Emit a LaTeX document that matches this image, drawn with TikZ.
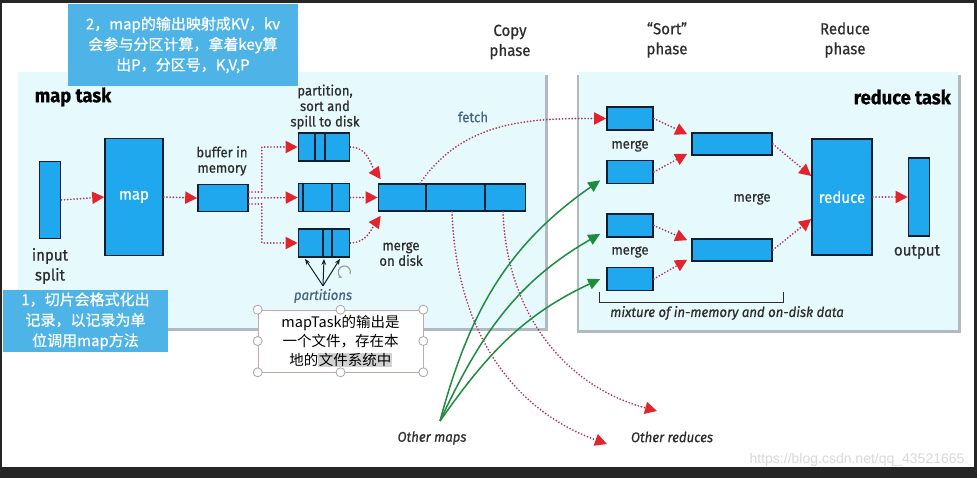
\documentclass[tikz,border=0pt]{standalone}
\usepackage{fontspec}
\setmainfont{Fira Sans}[FakeStretch=0.94, FakeBold=0.6]
\newfontfamily\cjk{Noto Sans CJK SC}[FakeBold=0.8]
\newfontfamily\cjkplain{Noto Sans CJK SC}
\newfontfamily\wmfont{Liberation Sans}
\usepackage{xcolor}
\usetikzlibrary{arrows.meta, positioning, calc}
\definecolor{boxblue}{RGB}{32,168,238}
\definecolor{boxedge}{RGB}{16,30,48}
\definecolor{panelbg}{RGB}{230,249,253}
\definecolor{panelshade}{RGB}{176,186,192}
\definecolor{dotred}{RGB}{178,48,96}
\definecolor{tipred}{RGB}{228,36,44}
\definecolor{flowgreen}{RGB}{30,140,60}
\definecolor{callblue}{RGB}{78,180,232}
\definecolor{txtgray}{RGB}{45,45,45}
\definecolor{noteblue}{RGB}{70,100,130}
\newcommand{\hlgray}[1]{{\fboxsep=0.5pt\colorbox{gray!35}{#1}}}

\begin{document}
\begin{tikzpicture}[x=1pt, y=1pt,
    part/.style={rectangle, draw=boxedge, line width=1.6pt, fill=boxblue, inner sep=0pt, text=white, font=\fontsize{16}{18}\selectfont},
    lbl/.style={font=\fontsize{14}{15.5}\selectfont, text=txtgray, align=center, inner sep=0pt},
    biglbl/.style={font=\fontsize{16}{20}\selectfont, text=txtgray, align=center, inner sep=0pt},
    tasklbl/.style={font=\bfseries\fontsize{19.5}{22}\selectfont, text=black, inner sep=0pt},
    note/.style={font=\itshape\fontsize{14}{16}\selectfont, text=noteblue, inner sep=0pt},
    redflow/.style={draw=dotred, line width=1.9pt, line cap=round, dash pattern=on 0pt off 3.2pt, -{Triangle[length=12pt, width=12pt, color=tipred]}},
    grnflow/.style={draw=flowgreen, line width=1.5pt, -{Triangle[length=12pt, width=11pt]}},
    divline/.style={draw=boxedge, line width=1.4pt},
    callout/.style={rectangle, fill=callblue, text=white, align=center, inner sep=0pt, font=\cjk\fontsize{15}{20.5}\selectfont},
    handle/.style={draw=gray!70, fill=white, line width=0.8pt}
]
\useasboundingbox (0,0) rectangle (977,-478);

% Screen frame and task panels
\fill[black!85] (0,0) rectangle (977,-478);
\fill[white] (2,-3) rectangle (974,-467);
\fill[panelshade] (21,-75) rectangle (548,-331);
\fill[panelbg] (18,-72) rectangle (545,-328);
\fill[panelshade] (577,-75) rectangle (961,-333);
\fill[panelbg] (579,-72) rectangle (958,-330);

% Map side
\node[part, minimum width=21pt, minimum height=77pt] (insplit) at (50,-200) {};
\node[part, minimum width=58pt, minimum height=117pt] (mapbox) at (134,-197) {map};
\node[part, minimum width=50pt, minimum height=27pt] (buf) at (223,-198) {};
\node[part, minimum width=51pt, minimum height=28pt] (spillA) at (324,-147) {};
\node[part, minimum width=51pt, minimum height=28pt] (spillB) at (324,-197.5) {};
\node[part, minimum width=51pt, minimum height=28pt] (spillC) at (324,-243) {};
\node[part, minimum width=147pt, minimum height=27pt] (mdisk) at (452,-197.5) {};
\foreach \x in {315,325} \draw[divline] (\x,0 |- spillA.north) -- (\x,0 |- spillA.south);
\foreach \x in {303,332} \draw[divline] (\x,0 |- spillB.north) -- (\x,0 |- spillB.south);
\foreach \x in {323,332} \draw[divline] (\x,0 |- spillC.north) -- (\x,0 |- spillC.south);
\foreach \x in {426,485} \draw[divline] (\x,0 |- mdisk.north) -- (\x,0 |- mdisk.south);

% Reduce side
\node[part, minimum width=46pt, minimum height=23pt] (rm1) at (630,-118.5) {};
\node[part, minimum width=46pt, minimum height=23pt] (rm2) at (630,-172) {};
\node[part, minimum width=46pt, minimum height=23pt] (rm3) at (630,-225.5) {};
\node[part, minimum width=46pt, minimum height=23pt] (rm4) at (630,-279) {};
\node[part, minimum width=80pt, minimum height=22pt] (bm1) at (732,-144) {};
\node[part, minimum width=80pt, minimum height=22pt] (bm2) at (732,-250) {};
\node[part, minimum width=60pt, minimum height=116pt] (redbox) at (842,-197) {reduce};
\node[part, minimum width=21pt, minimum height=78pt] (outbox) at (919,-197) {};

% Labels
\node[tasklbl] at (73,-97) {map task};
\node[tasklbl, anchor=east] at (951,-97) {reduce task};
\node[biglbl] at (510,-42) {Copy\\phase};
\node[biglbl] at (667,-40) {“Sort”\\phase};
\node[biglbl] at (845,-40) {Reduce\\phase};
\node[biglbl] at (50,-266) {input\\split};
\node[biglbl] at (917,-252) {output};
\node[lbl] at (222,-161) {buffer in\\memory};
\node[lbl] at (325,-107) {partition,\\sort and\\spill to disk};
\node[lbl] at (401,-254) {merge\\on disk};
\node[lbl, text=noteblue] at (473,-117) {fetch};
\node[lbl] at (630,-146) {merge};
\node[lbl] at (630,-252) {merge};
\node[lbl] at (752,-199) {merge};
\node[note] (parts) at (323,-296) {partitions};
\node[note, text=txtgray] at (727,-313) {mixture of in-memory and on-disk data};
\node[note, text=txtgray] at (432,-438) {Other maps};
\node[note, text=txtgray] at (672,-437) {Other reduces};
\node[anchor=east, text=gray!30, font=\wmfont\fontsize{14}{16}\selectfont] at (968,-460) {https://blog.csdn.net/qq\_43521665};
\draw[txtgray, line width=0.8pt] (599,-292) |- (783,-302) -- (783,-292);

% Map flow
\draw[redflow] (insplit.east) -- (mapbox.west);
\draw[redflow] (mapbox.east) -- (buf.west);
\draw[redflow] ([yshift=6pt]buf.east) -- ++(13,0) |- (spillA.west);
\draw[redflow] (buf.east) -- (spillB.west);
\draw[redflow] ([yshift=-6pt]buf.east) -- ++(13,0) |- (spillC.west);
\draw[redflow] (spillA.east) to[out=0, in=125] ([shift={(3pt,4pt)}]mdisk.north west);
\draw[redflow] (spillB.east) -- (mdisk.west);
\draw[redflow] (spillC.east) to[out=0, in=235] ([shift={(3pt,-4pt)}]mdisk.south west);
\foreach \dx in {-19,0,16}
  \draw[boxedge, line width=1pt, -{Stealth[length=6pt]}] ([yshift=3pt]parts.north) -- ([xshift=\dx pt, yshift=-1pt]spillC.south);
\draw[gray!80, line width=1.1pt, -{Stealth[length=4pt]}] (350,-274) arc (-20:250:6);

% Copy phase
\coordinate (oredA) at (607,-444);
\coordinate (oredB) at (657,-411);
\coordinate (omaps) at (440,-421);
\draw[redflow] ([xshift=-32pt]mdisk.north) to[out=55, in=180] (rm1.west);
\draw[redflow] (mdisk.south) to[out=-88, in=160] (oredA);
\draw[redflow] ([xshift=51pt]mdisk.south) to[out=-88, in=165] (oredB);
\draw[grnflow] (omaps) to[out=75, in=215] ([shift={(-6pt,4pt)}]rm2.south west);
\draw[grnflow] (omaps) to[out=65, in=210] ([shift={(-6pt,4pt)}]rm3.south west);
\draw[grnflow] (omaps) to[out=55, in=205] ([xshift=-6pt]rm4.west);

% Sort and reduce phases
\draw[redflow] (rm1.east) -- ([shift={(-4pt,-2pt)}]bm1.north west);
\draw[redflow] (rm2.east) -- ([shift={(-4pt,2pt)}]bm1.south west);
\draw[redflow] (rm3.east) -- ([shift={(-4pt,-2pt)}]bm2.north west);
\draw[redflow] (rm4.east) -- ([shift={(-4pt,2pt)}]bm2.south west);
\draw[redflow] (bm1.east) -- ([yshift=21pt]redbox.west);
\draw[redflow] (bm2.east) -- ([yshift=-22pt]redbox.west);
\draw[redflow] (redbox.east) -- (outbox.west);

% Notes
\node[callout, minimum width=230pt, minimum height=82pt] (noteKV) at (183,-45) {2，map的输出映射成KV，kv\\会参与分区计算，拿着key算\\出P，分区号，K,V,P};
\node[callout, minimum width=165pt, minimum height=62pt] (noteSplit) at (85.5,-321) {1，切片会格式化出\\记录，以记录为单\\位调用map方法};
\node[draw=pink!60!gray, line width=0.6pt, fill=white, minimum width=165pt, minimum height=62pt, inner sep=0pt, align=center, font=\cjkplain\fontsize{14.5}{19}\selectfont] (mtxt) at (340.5,-341) {mapTask的输出是\\一个文件，存在本\\地的\hlgray{文件系统中}};
\foreach \a in {north west, north, north east, west, east, south west, south, south east}
  \draw[handle] (mtxt.\a) circle (4.5);
\end{tikzpicture}
\end{document}
